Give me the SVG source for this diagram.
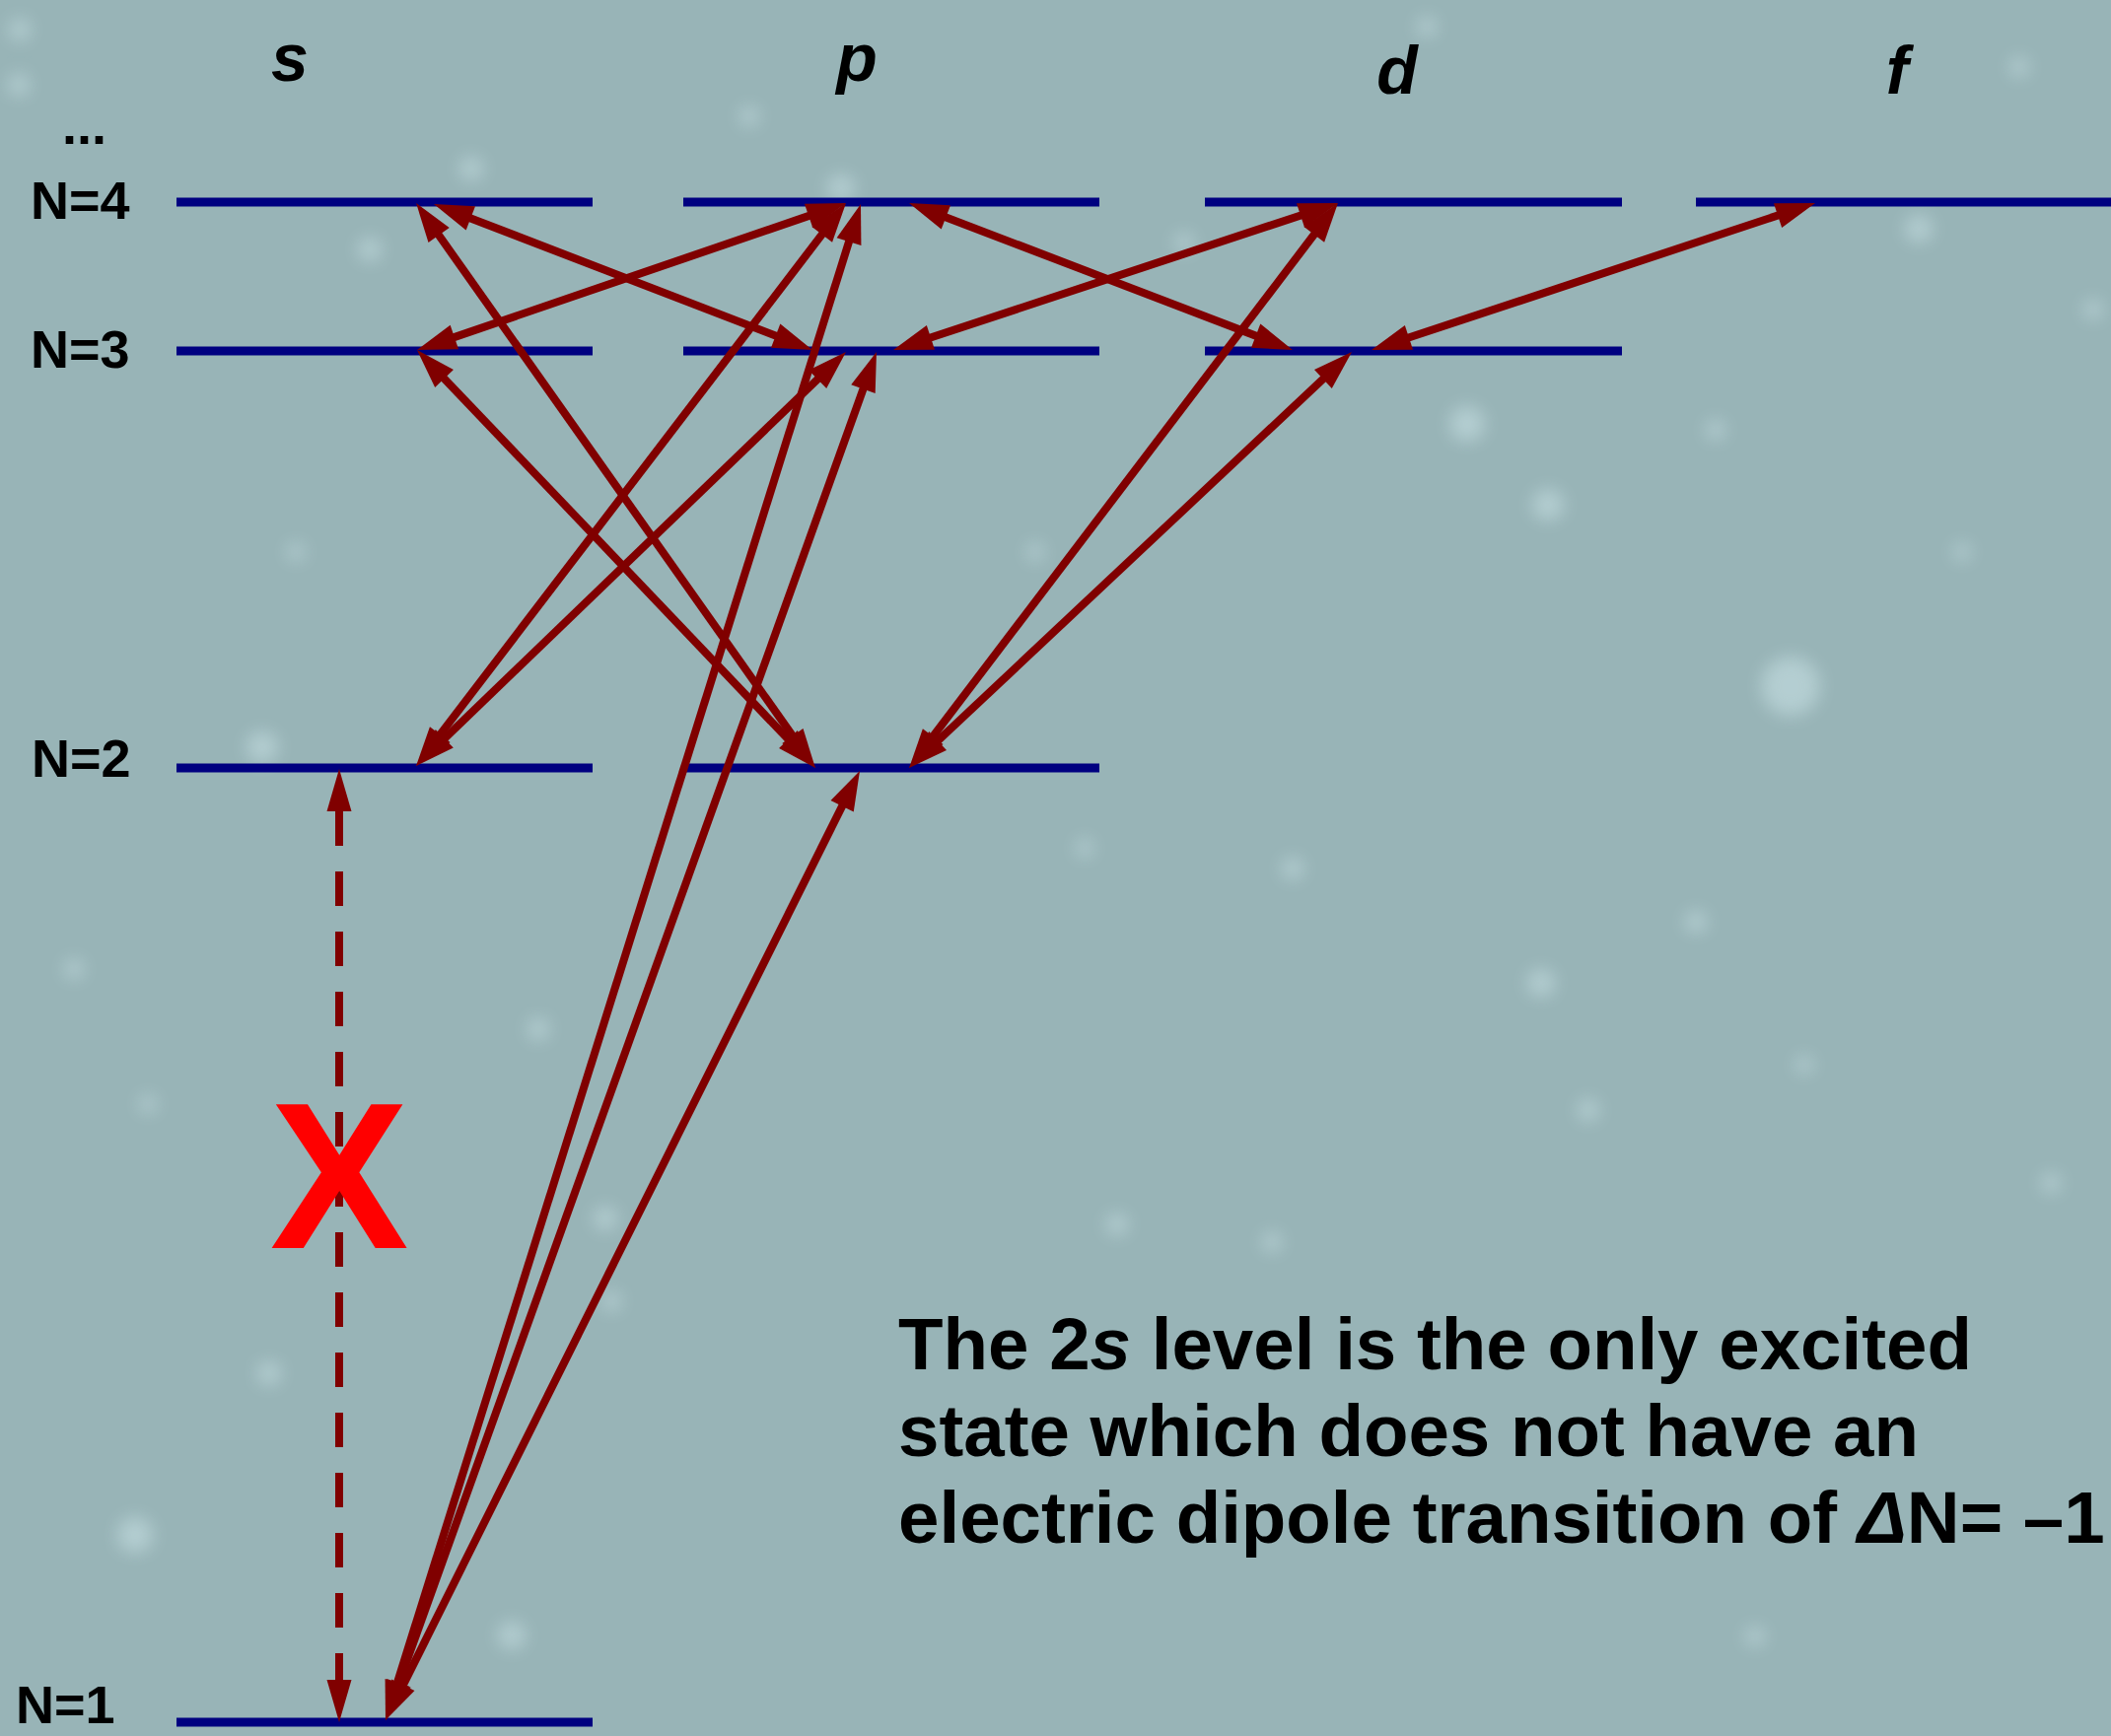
<svg xmlns="http://www.w3.org/2000/svg" width="2141" height="1761" viewBox="0 0 2141 1761">
<defs>
<style>
.lvl{stroke:#000080;stroke-width:9;fill:none}
.lbl{font-family:"Liberation Sans",Arial,sans-serif;font-weight:bold;font-size:54px;fill:#000}
.col{font-family:"Liberation Sans",Arial,sans-serif;font-weight:bold;font-style:italic;font-size:68px;fill:#000;text-anchor:middle}
.body{font-family:"Liberation Sans",Arial,sans-serif;font-weight:bold;font-size:74.5px;fill:#000}
.tr{stroke:#800000;stroke-width:8;fill:none;marker-start:url(#ah);marker-end:url(#ah)}
.dash{stroke:#800000;stroke-width:8;fill:none;stroke-dasharray:35 26;marker-start:url(#ahd);marker-end:url(#ahd)}
.star{fill:#dff6fa;filter:url(#blur)}
</style>
<marker id="ah" markerUnits="userSpaceOnUse" markerWidth="40" markerHeight="26" refX="25" refY="13" orient="auto-start-reverse" overflow="visible">
<path d="M0,0 L40,13 L0,26 Z" fill="#800000"/>
</marker>
<marker id="ahd" markerUnits="userSpaceOnUse" markerWidth="43" markerHeight="25" refX="0" refY="12.5" orient="auto-start-reverse" overflow="visible">
<path d="M0,0 L43,12.5 L0,25 Z" fill="#800000"/>
</marker>
<filter id="blur" x="-100%" y="-100%" width="300%" height="300%"><feGaussianBlur stdDeviation="9"/></filter>
</defs>
<rect x="0" y="0" width="2141" height="1761" fill="#98b4b7"/>
<g id="stars" opacity="0.4">
<circle class="star" cx="1816" cy="696" r="30"/>
<circle class="star" cx="1488" cy="430" r="18"/>
<circle class="star" cx="1570" cy="512" r="16"/>
<circle class="star" cx="137" cy="1557" r="18"/>
<circle class="star" cx="1563" cy="997" r="14"/>
<circle class="star" cx="1946" cy="232" r="14"/>
<circle class="star" cx="853" cy="191" r="14"/>
<circle class="star" cx="478" cy="171" r="12"/>
<circle class="star" cx="375" cy="253" r="12"/>
<circle class="star" cx="266" cy="758" r="16"/>
<circle class="star" cx="273" cy="1393" r="12"/>
<circle class="star" cx="519" cy="1659" r="14"/>
<circle class="star" cx="1720" cy="935" r="11"/>
<circle class="star" cx="1311" cy="881" r="11"/>
<circle class="star" cx="1611" cy="1126" r="11"/>
<circle class="star" cx="1133" cy="1242" r="11"/>
<circle class="star" cx="75" cy="983" r="10"/>
<circle class="star" cx="614" cy="1236" r="12"/>
<circle class="star" cx="546" cy="1044" r="11"/>
<circle class="star" cx="1447" cy="27" r="10"/>
<circle class="star" cx="2048" cy="68" r="10"/>
<circle class="star" cx="2123" cy="314" r="10"/>
<circle class="star" cx="1201" cy="246" r="10"/>
<circle class="star" cx="20" cy="30" r="11"/>
<circle class="star" cx="19" cy="86" r="11"/>
<circle class="star" cx="760" cy="118" r="10"/>
<circle class="star" cx="1740" cy="436" r="10"/>
<circle class="star" cx="1990" cy="560" r="9"/>
<circle class="star" cx="1290" cy="1260" r="10"/>
<circle class="star" cx="1830" cy="1080" r="9"/>
<circle class="star" cx="1780" cy="1660" r="10"/>
<circle class="star" cx="2080" cy="1200" r="10"/>
<circle class="star" cx="1050" cy="560" r="9"/>
<circle class="star" cx="1100" cy="860" r="9"/>
<circle class="star" cx="300" cy="560" r="9"/>
<circle class="star" cx="150" cy="1120" r="9"/>
<circle class="star" cx="620" cy="1320" r="10"/>
</g>
<g id="column-labels">
<text class="col" x="294" y="82">s</text>
<text class="col" x="869" y="82">p</text>
<text class="col" x="1417" y="95">d</text>
<text class="col" x="1924" y="95">f</text>
</g>
<g id="level-labels">
<text class="lbl" x="63" y="146" font-size="60">...</text>
<text class="lbl" x="31" y="222">N=4</text>
<text class="lbl" x="31" y="373">N=3</text>
<text class="lbl" x="32" y="788">N=2</text>
<text class="lbl" x="16" y="1748">N=1</text>
</g>
<g id="level-s4"><line class="lvl" x1="179" y1="205" x2="601" y2="205"/></g>
<g id="level-p4"><line class="lvl" x1="693" y1="205" x2="1115" y2="205"/></g>
<g id="level-d4"><line class="lvl" x1="1222" y1="205" x2="1645" y2="205"/></g>
<g id="level-f4"><line class="lvl" x1="1720" y1="205" x2="2141" y2="205"/></g>
<g id="level-s3"><line class="lvl" x1="179" y1="356" x2="601" y2="356"/></g>
<g id="level-p3"><line class="lvl" x1="693" y1="356" x2="1115" y2="356"/></g>
<g id="level-d3"><line class="lvl" x1="1222" y1="356" x2="1645" y2="356"/></g>
<g id="level-s2"><line class="lvl" x1="179" y1="779" x2="601" y2="779"/></g>
<g id="level-p2"><line class="lvl" x1="693" y1="779" x2="1115" y2="779"/></g>
<g id="level-s1"><line class="lvl" x1="179" y1="1747" x2="601" y2="1747"/></g>
<g id="connectors">
<line class="tr" x1="454" y1="212.4" x2="810" y2="349.6"/>
<line class="tr" x1="430.7" y1="218.2" x2="818.3" y2="766.8"/>
<line class="tr" x1="437.2" y1="350.1" x2="843.8" y2="210.9"/>
<line class="tr" x1="433.3" y1="365.9" x2="816.7" y2="768.1"/>
<line class="tr" x1="431.1" y1="765.1" x2="848.9" y2="217.9"/>
<line class="tr" x1="432.8" y1="766.6" x2="847.2" y2="367.4"/>
<line class="tr" x1="395.5" y1="1730.7" x2="868.5" y2="221.3"/>
<line class="tr" x1="396.1" y1="1730.9" x2="883.9" y2="371.1"/>
<line class="tr" x1="397.7" y1="1731.6" x2="865.3" y2="795.4"/>
<line class="tr" x1="936" y1="211.4" x2="1297" y2="349.6"/>
<line class="tr" x1="920.2" y1="350.3" x2="1342.8" y2="210.7"/>
<line class="tr" x1="931.1" y1="767" x2="1347.9" y2="218"/>
<line class="tr" x1="932.9" y1="768.7" x2="1360.1" y2="367.3"/>
<line class="tr" x1="1405.2" y1="350.3" x2="1826.8" y2="210.7"/>
<line class="dash" x1="344" y1="823" x2="344" y2="1704"/>
</g>
<g id="forbidden-mark">
<text x="344" y="1266" font-family="'Liberation Sans',Arial,sans-serif" font-weight="bold" font-size="211" fill="#ff0000" text-anchor="middle">X</text>
</g>
<g id="note">
<text class="body" x="911" y="1389">The 2<tspan font-style="italic">s</tspan> level is the only excited</text>
<text class="body" x="911" y="1477">state which does not have an</text>
<text class="body" x="911" y="1565">electric dipole transition of <tspan font-style="italic">Δ</tspan>N= –1</text>
</g>
</svg>
